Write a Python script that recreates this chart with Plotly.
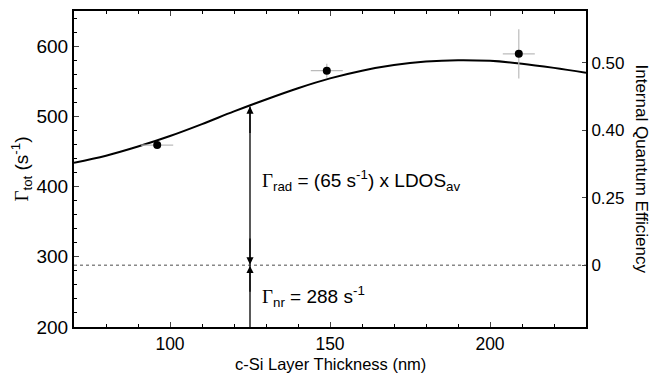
import plotly.graph_objects as go

# Data
thickness = [96, 149, 209]
gamma_tot = [459, 565, 589]
thick_err = [5, 5, 5]
gamma_err = [0, 10, 35]

fit_x = [70, 80, 90, 100, 110, 120, 130, 140, 150, 160, 170, 180, 190, 200, 210, 220, 230]
fit_y = [434, 444, 457, 472, 489, 507, 524, 540, 554, 565, 573, 578, 580, 579, 575, 569, 562]

gamma_nr = 288
arrow_x = 125
arrow_top = 514
iqe_labels = ["0", "0.25", "0.40", "0.50"]

x_ticks = [100, 150, 200]
y_ticks = [200, 300, 400, 500, 600]

FONT = "Liberation Sans"
SERIF = "Liberation Serif"

fig = go.Figure()

fig.add_trace(go.Scatter(
    x=fit_x, y=fit_y, mode="lines", line=dict(color="black", width=2, shape="spline"),
    showlegend=False, hoverinfo="skip"))

fig.add_trace(go.Scatter(
    x=[fit_x[0], fit_x[-1]], y=[gamma_nr, gamma_nr], mode="lines",
    line=dict(color="#888888", width=1.5, dash="dot"), showlegend=False))

fig.add_trace(go.Scatter(
    x=thickness, y=gamma_tot, mode="markers",
    marker=dict(color="black", size=8),
    error_x=dict(type="data", array=thick_err, color="#bbbbbb", thickness=1.2, width=0),
    error_y=dict(type="data", array=gamma_err, color="#bbbbbb", thickness=1.2, width=0),
    showlegend=False))

# invisible trace for secondary axis
fig.add_trace(go.Scatter(x=[fit_x[0]], y=[gamma_nr], yaxis="y2", mode="markers",
                         marker=dict(opacity=0), showlegend=False, hoverinfo="skip"))

iqe_vals = [gamma_nr / (1 - float(q)) for q in iqe_labels]

# vertical line of arrows
fig.add_shape(type="line", xref="x", yref="y", x0=arrow_x, x1=arrow_x, y0=200, y1=arrow_top,
              line=dict(color="black", width=1.3))

def arrowhead(x0, y0, x1, y1):
    fig.add_annotation(x=x1, y=y1, ax=x0, ay=y0, xref="x", yref="y", axref="x", ayref="y",
                       showarrow=True, arrowhead=2, arrowsize=1.1, arrowwidth=1.3,
                       arrowcolor="black", text="")

arrowhead(arrow_x, arrow_top - 40, arrow_x, arrow_top)
arrowhead(arrow_x, gamma_nr + 40, arrow_x, gamma_nr + 1)
arrowhead(arrow_x, gamma_nr - 40, arrow_x, gamma_nr - 1)

fig.add_annotation(x=128, y=408, xref="x", yref="y", xanchor="left", showarrow=False,
                   text=f"<span style='font-family:{SERIF}'>Γ</span><sub>rad</sub> = (65 s<sup>-1</sup>) x LDOS<sub>av</sub>",
                   font=dict(family=FONT, size=19, color="black"))
fig.add_annotation(x=128, y=243, xref="x", yref="y", xanchor="left", showarrow=False,
                   text=f"<span style='font-family:{SERIF}'>Γ</span><sub>nr</sub> = 288 s<sup>-1</sup>",
                   font=dict(family=FONT, size=19, color="black"))

fig.add_annotation(x=1, y=0.5, xref="paper", yref="paper", xshift=67, showarrow=False,
                   text="Internal Quantum Efficiency", textangle=90,
                   font=dict(family=FONT, size=17, color="black"))

fig.add_annotation(x=0.5, y=0, xref="paper", yref="paper", yshift=-37, yanchor="middle",
                   showarrow=False, text="c-Si Layer Thickness (nm)",
                   font=dict(family=FONT, size=16.5, color="black"))

# page body adds an 8px offset, so margins are shifted to compensate
fig.update_layout(
    width=660, height=377,
    margin=dict(l=66, r=82, t=1, b=58),
    plot_bgcolor="white", paper_bgcolor="white",
    font=dict(family=FONT, size=19, color="black"),
    xaxis=dict(range=[70, 230], tickvals=x_ticks, ticks="inside", ticklen=5, tickwidth=1.2,
               tickfont=dict(size=17.5),
               showline=True, linecolor="black", linewidth=2, mirror="ticks",
               showgrid=False, zeroline=False,
               minor=dict(dtick=10, tick0=0, ticks="inside", ticklen=3, tickcolor="black")),
    yaxis=dict(range=[200, 650], tickvals=y_ticks, ticks="inside", ticklen=5, tickwidth=1.2,
               showline=True, linecolor="black", linewidth=2,
               showgrid=False, zeroline=False,
               minor=dict(dtick=20, tick0=0, ticks="inside", ticklen=3, tickcolor="black"),
               title=dict(text=f"<span style='font-family:{SERIF}'>Γ</span><sub>tot</sub> (s<sup>-1</sup>)",
                          font=dict(size=19), standoff=4)),
    yaxis2=dict(range=[200, 650], overlaying="y", side="right", tickvals=iqe_vals,
                ticktext=iqe_labels, ticks="inside", ticklen=4, tickwidth=1.2,
                tickfont=dict(size=17),
                showline=True, linecolor="black", linewidth=2, showgrid=False, zeroline=False),
)

fig.write_html("out.html")
